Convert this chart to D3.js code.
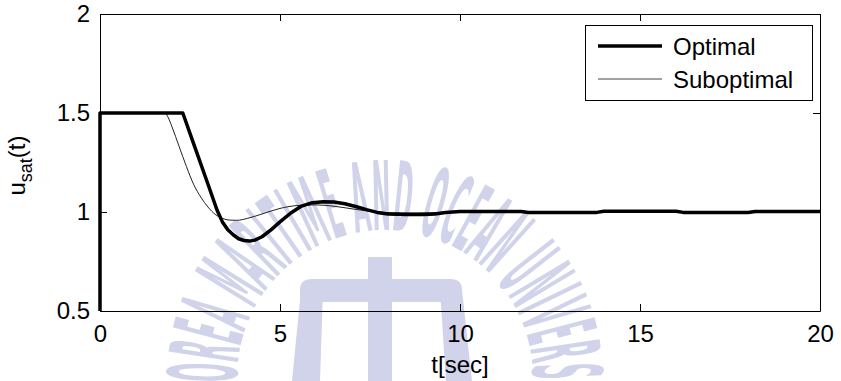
<!DOCTYPE html>
<html lang="en">
<head>
<meta charset="UTF-8" />
<title>u_sat(t)</title>
<style>
  body { margin: 0; background: #fff; }
  svg { display: block; }
  text { font-family: "Liberation Sans", Arial, Helvetica, sans-serif; }
</style>
</head>
<body>
<svg width="841" height="381"></svg>
<script src="https://cdn.jsdelivr.net/npm/d3@7/dist/d3.min.js"></script>
<script>
// values
var optT = [0, 0, 2.3, 2.6, 3.0, 3.25, 3.4, 3.55, 3.7, 3.85, 4.0, 4.15, 4.3, 4.5, 4.75, 5.0, 5.3, 5.6, 5.9, 6.2, 6.5, 6.8, 7.1, 7.4, 7.7, 8.0, 8.5, 9.0, 9.3, 9.6, 10, 11.7, 11.9, 13.8, 14.0, 16.0, 16.2, 18.0, 18.2, 20];
var optU = [0.5, 1.5, 1.5, 1.345, 1.14, 1.01, 0.95, 0.91, 0.885, 0.865, 0.856, 0.853, 0.858, 0.875, 0.91, 0.95, 0.995, 1.03, 1.047, 1.052, 1.05, 1.042, 1.028, 1.012, 0.998, 0.99, 0.987, 0.987, 0.99, 0.997, 1.002, 1.003, 0.998, 0.998, 1.004, 1.004, 0.998, 0.998, 1.003, 1.003];

var subT = [0, 1.8, 1.9, 2.0, 2.2, 2.4, 2.6, 2.8, 3.0, 3.2, 3.4, 3.6, 3.8, 4.1, 4.5, 5.0, 5.5, 6.0, 6.5, 7.0, 7.5, 8.0, 8.8, 9.5, 10, 20];
var subU = [1.5, 1.5, 1.475, 1.43, 1.33, 1.23, 1.14, 1.075, 1.025, 0.988, 0.968, 0.959, 0.958, 0.968, 0.99, 1.018, 1.033, 1.036, 1.029, 1.016, 1.004, 0.997, 0.995, 0.998, 1.0, 1.0];

var xTicks = [0, 5, 10, 15, 20];
var yTicks = [0.5, 1, 1.5, 2];
var seriesNames = ["Optimal", "Suboptimal"];
var watermarkText = "KOREA MARITIME AND OCEAN UNIVERSITY";

var svg = d3.select("svg"),
    margin = {top: 14, right: 21, bottom: 70, left: 100},
    width = +svg.attr("width") - margin.left - margin.right,
    height = +svg.attr("height") - margin.top - margin.bottom;

var x = d3.scaleLinear().domain([0, 20]).range([margin.left, margin.left + width]);
var y = d3.scaleLinear().domain([0.5, 2]).range([margin.top + height, margin.top]);

// faint watermark behind the plot
var wm = svg.append("g").attr("fill", "#d0d3ea");
var cx = 385, cy = 378, r = 148;
var a0 = 188, a1 = -16;
function pt(a) {
  var rad = a * Math.PI / 180;
  return [cx + r * Math.cos(rad), cy - r * Math.sin(rad)];
}
var p0 = pt(a0), p1 = pt(a1);
wm.append("path")
    .attr("id", "arc")
    .attr("fill", "none")
    .attr("d", "M" + p0[0] + "," + p0[1] + " A" + r + "," + r + " 0 1 1 " + p1[0] + "," + p1[1]);
wm.append("text")
    .style("font-family", "'Liberation Sans Narrow','DejaVu Sans Condensed',sans-serif")
    .style("font-weight", "bold")
    .style("font-size", "96px")
  .append("textPath")
    .attr("href", "#arc")
    .attr("textLength", r * Math.PI * (a0 - a1) / 180)
    .attr("lengthAdjust", "spacingAndGlyphs")
    .text(watermarkText);
// logo
wm.append("rect").attr("x", 368).attr("y", 257).attr("width", 24).attr("height", 130);
wm.append("path").attr("d", "M300,302 L300,290 Q300,279 312,279 L450,279 Q462,279 462,290 L462,302 Z");
wm.append("path").attr("d", "M301,290 L323,290 L320,381 L292,381 Z");
wm.append("path").attr("d", "M440,290 L462,290 L472,381 L446,381 Z");

// axes (MATLAB style, ticks inward on all sides)
svg.append("g")
    .attr("transform", "translate(0," + (margin.top + height) + ")")
    .call(d3.axisBottom(x).tickValues(xTicks).tickSizeInner(-7).tickSizeOuter(0).tickPadding(14).tickFormat(d3.format("d")));
svg.append("g")
    .attr("transform", "translate(0," + margin.top + ")")
    .call(d3.axisTop(x).tickValues(xTicks).tickSizeInner(-7).tickSizeOuter(0).tickFormat(""));
svg.append("g")
    .attr("transform", "translate(" + margin.left + ",0)")
    .call(d3.axisLeft(y).tickValues(yTicks).tickSizeInner(-7).tickSizeOuter(0).tickPadding(10).tickFormat(function(d) { return d; }));
svg.append("g")
    .attr("transform", "translate(" + (margin.left + width) + ",0)")
    .call(d3.axisRight(y).tickValues(yTicks).tickSizeInner(-7).tickSizeOuter(0).tickFormat(""));

svg.selectAll(".tick text")
    .style("font-family", "'Liberation Sans', Arial, sans-serif")
    .style("font-size", "24px")
    .attr("fill", "#000");
svg.selectAll(".domain, .tick line").attr("stroke", "#000").attr("stroke-width", 1);

// curves
var line = d3.line()
    .x(function(d) { return x(d[0]); })
    .y(function(d) { return y(d[1]); });

svg.append("path")
    .datum(subT.map(function(t, i) { return [t, subU[i]]; }))
    .attr("fill", "none")
    .attr("stroke", "#222")
    .attr("stroke-width", 1)
    .attr("d", line.curve(d3.curveMonotoneX));

svg.append("path")
    .datum(optT.map(function(t, i) { return [t, optU[i]]; }))
    .attr("fill", "none")
    .attr("stroke", "#000")
    .attr("stroke-width", 3.5)
    .attr("stroke-linejoin", "round")
    .attr("d", line.curve(d3.curveLinear));

// axis labels
svg.append("text")
    .attr("x", margin.left + width / 2)
    .attr("y", 373)
    .attr("text-anchor", "middle")
    .style("font-size", "24px")
    .text("t[sec]");

var yl = svg.append("text")
    .attr("transform", "translate(25," + (margin.top + height / 2 + 3) + ") rotate(-90)")
    .attr("text-anchor", "middle")
    .style("font-size", "24px");
yl.append("tspan").text("u");
yl.append("tspan").attr("dy", 7).style("font-size", "18px").text("sat");
yl.append("tspan").attr("dy", -7).text("(t)");

// legend
var lg = svg.append("g");
lg.append("rect")
    .attr("x", 585.5).attr("y", 25.5).attr("width", 227).attr("height", 75)
    .attr("fill", "#fff").attr("stroke", "#000").attr("stroke-width", 1);
var rows = [{w: 3.5, c: "#000", yy: 46}, {w: 1, c: "#444", yy: 79}];
rows.forEach(function(rw, i) {
  lg.append("line")
      .attr("x1", 598).attr("x2", 662).attr("y1", rw.yy).attr("y2", rw.yy)
      .attr("stroke", rw.c).attr("stroke-width", rw.w);
  lg.append("text")
      .attr("x", 673).attr("y", rw.yy + 9)
      .style("font-size", "24px")
      .text(seriesNames[i]);
});
</script>
</body>
</html>
